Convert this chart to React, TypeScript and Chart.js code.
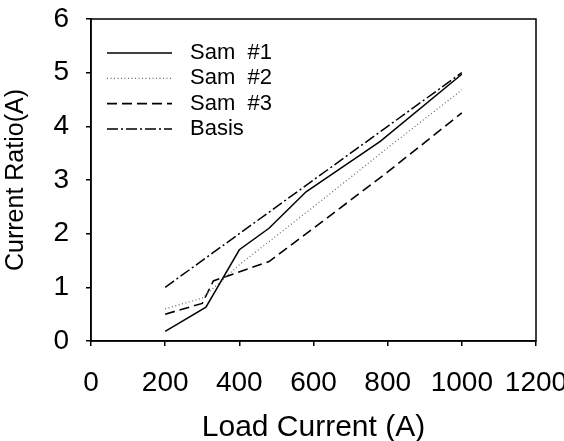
import React, { useEffect, useRef } from "react";
import { Chart, registerables } from "chart.js";

Chart.register(...registerables);

const sam1X = [200, 310, 400, 480, 580, 780, 1000];
const sam1Y = [0.18, 0.63, 1.7, 2.1, 2.78, 3.72, 4.97];
const sam2X = [200, 300, 400, 600, 800, 1000];
const sam2Y = [0.6, 0.8, 1.42, 2.5, 3.6, 4.68];
const sam3X = [200, 300, 330, 480, 600, 800, 1000];
const sam3Y = [0.5, 0.7, 1.12, 1.48, 2.1, 3.15, 4.25];
const basisX = [200, 400, 600, 800, 1000];
const basisY = [1, 2, 3, 4, 5];
const seriesNames = ["Sam  #1", "Sam  #2", "Sam  #3", "Basis"];
const xTicks = [0, 200, 400, 600, 800, 1000, 1200];
const yTicks = [0, 1, 2, 3, 4, 5, 6];

const FONT = "'Liberation Sans', Arial, Helvetica, sans-serif";

const pts = (xs: number[], ys: number[]) => xs.map((x, i) => ({ x, y: ys[i] }));

const frameAndLegend = {
  id: "frameAndLegend",
  afterDraw(chart: any) {
    const { ctx, chartArea } = chart;
    const { left, top, right, bottom } = chartArea;
    ctx.save();
    ctx.strokeStyle = "#000";
    ctx.lineWidth = 1.5;
    ctx.setLineDash([]);
    ctx.strokeRect(left, top, right - left, bottom - top);
    // legend
    const rowY0 = top + 34;
    const step = 25.3;
    ctx.font = `22px ${FONT}`;
    ctx.textBaseline = "middle";
    ctx.textAlign = "left";
    chart.data.datasets.forEach((ds: any, i: number) => {
      const y = rowY0 + i * step;
      ctx.beginPath();
      ctx.strokeStyle = ds.borderColor;
      ctx.lineWidth = ds.borderWidth;
      ctx.setLineDash(ds.borderDash || []);
      ctx.moveTo(left + 16, y);
      ctx.lineTo(left + 81, y);
      ctx.stroke();
      ctx.setLineDash([]);
      ctx.fillStyle = "#000";
      ctx.fillText(ds.label, left + 99, y);
    });
    ctx.restore();
  },
};

export default function App() {
  const ref = useRef<HTMLCanvasElement | null>(null);
  useEffect(() => {
    if (!ref.current) return;
    const chart = new Chart(ref.current, {
      type: "line",
      data: {
        datasets: [
          { label: seriesNames[0], data: pts(sam1X, sam1Y), borderColor: "#000", borderWidth: 1.5, borderDash: [] },
          { label: seriesNames[1], data: pts(sam2X, sam2Y), borderColor: "#666", borderWidth: 1.2, borderDash: [1, 2.5] },
          { label: seriesNames[2], data: pts(sam3X, sam3Y), borderColor: "#000", borderWidth: 1.6, borderDash: [10, 5] },
          { label: seriesNames[3], data: pts(basisX, basisY), borderColor: "#000", borderWidth: 1.5, borderDash: [11, 3, 2, 3] },
        ] as any,
      },
      options: {
        animation: false,
        responsive: false,
        devicePixelRatio: 1,
        parsing: false as any,
        elements: { point: { radius: 0 }, line: { tension: 0 } },
        layout: { padding: { top: 19, right: 28, left: 0, bottom: 0 } },
        plugins: { legend: { display: false }, tooltip: { enabled: false } },
        scales: {
          x: {
            type: "linear",
            min: 0,
            max: 1200,
            afterBuildTicks: (s: any) => { s.ticks = xTicks.map((v) => ({ value: v })); },
            afterFit: (s: any) => { s.height = 100; s.paddingRight = 0; s.paddingLeft = 0; },
            grid: { display: true, drawOnChartArea: false, drawTicks: true, tickLength: 5, tickColor: "#000", lineWidth: 1.5 },
            border: { display: true, color: "#000", width: 1.5 },
            ticks: { color: "#000", font: { family: FONT, size: 28 }, padding: 20, maxRotation: 0, autoSkip: false, callback: (v: any) => String(v) },
            title: { display: true, text: "Load Current (A)", color: "#000", font: { family: FONT, size: 30, lineHeight: 1 }, padding: { top: 0, bottom: -2 } },
          },
          y: {
            type: "linear",
            min: 0,
            max: 6,
            afterBuildTicks: (s: any) => { s.ticks = yTicks.map((v) => ({ value: v })); },
            afterFit: (s: any) => { s.width = 91; s.paddingTop = 0; s.paddingBottom = 0; },
            grid: { display: true, drawOnChartArea: false, drawTicks: true, tickLength: 5, tickColor: "#000", lineWidth: 1.5 },
            border: { display: true, color: "#000", width: 1.5 },
            ticks: { color: "#000", font: { family: FONT, size: 28 }, padding: 17, callback: (v: any) => String(v) },
            title: { display: true, text: "Current Ratio(A)", color: "#000", font: { family: FONT, size: 25 }, padding: { top: 1, bottom: 0 } },
          },
        },
      },
      plugins: [frameAndLegend],
    } as any);
    return () => chart.destroy();
  }, []);
  return (
    <div style={{ position: "fixed", left: 0, top: 0, width: 564, height: 441, overflow: "hidden", background: "#fff" }}>
      <canvas ref={ref} width={564} height={441} style={{ width: 564, height: 441, display: "block" }} />
    </div>
  );
}
